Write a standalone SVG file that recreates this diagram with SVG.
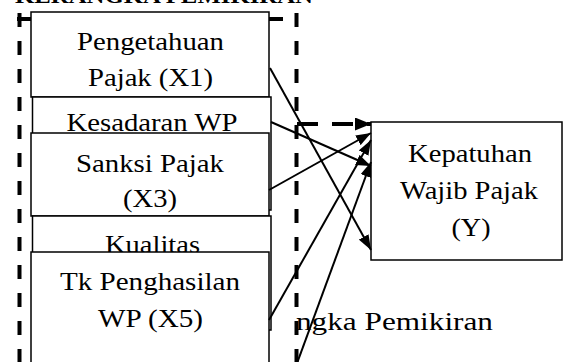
<svg xmlns="http://www.w3.org/2000/svg" width="564" height="362" viewBox="0 0 564 362">
  <style>
    .box { fill: #ffffff; stroke: #000000; stroke-width: 1.5; }
    .lbl { font-family: "Liberation Serif", "Times New Roman", serif; font-size: 26px; fill: #000000; text-anchor: middle; }
    .frame { fill: none; stroke: #000000; stroke-width: 4; stroke-dasharray: 14 14; }
    .link { fill: none; stroke: #000000; stroke-width: 2; marker-end: url(#head); }
    .dlink { fill: none; stroke: #000000; stroke-width: 4; stroke-dasharray: 21 14; marker-end: url(#headBig); }
  </style>
  <defs>
    <marker id="head" markerUnits="userSpaceOnUse" markerWidth="15" markerHeight="11" refX="15" refY="5.5" orient="auto">
      <path d="M0,0 L15,5.5 L0,11 z" fill="#000000"/>
    </marker>
    <marker id="headBig" markerUnits="userSpaceOnUse" markerWidth="16" markerHeight="13" refX="16" refY="6.5" orient="auto">
      <path d="M0,0 L16,6.5 L0,13 z" fill="#000000"/>
    </marker>
  </defs>

  <rect width="564" height="362" fill="#ffffff"/>

  <!-- title, running off the top edge -->
  <text x="15" y="2.5" font-family="Liberation Serif, serif" font-weight="bold" font-size="22" textLength="298" lengthAdjust="spacingAndGlyphs">KERANGKA PEMIKIRAN</text>

  <!-- caption -->
  <text x="296" y="330" font-family="Liberation Serif, serif" font-size="26" textLength="197" lengthAdjust="spacingAndGlyphs">ngka Pemikiran</text>

  <!-- dashed frame around the independent variables -->
  <g id="frame">
    <line class="frame" x1="19.5" y1="13" x2="19.5" y2="370"/>
    <line class="frame" x1="296.5" y1="13" x2="296.5" y2="370"/>
    <line class="frame" x1="17" y1="19" x2="296" y2="19" stroke-dasharray="10 18"/>
  </g>

  <g id="x1">
    <rect class="box" x="31" y="12" width="238" height="85"/>
    <text class="lbl" x="150.5" y="50" textLength="147" lengthAdjust="spacingAndGlyphs">Pengetahuan</text>
    <text class="lbl" x="150.5" y="86" textLength="125" lengthAdjust="spacingAndGlyphs">Pajak (X1)</text>
  </g>
  <g id="x2">
    <rect class="box" x="32.5" y="97" width="238.5" height="113"/>
    <text class="lbl" x="152" y="131" textLength="171" lengthAdjust="spacingAndGlyphs">Kesadaran WP</text>
  </g>
  <g id="x3">
    <rect class="box" x="31" y="133" width="238" height="83"/>
    <text class="lbl" x="150" y="172" textLength="148" lengthAdjust="spacingAndGlyphs">Sanksi Pajak</text>
    <text class="lbl" x="150" y="207" textLength="54" lengthAdjust="spacingAndGlyphs">(X3)</text>
  </g>
  <g id="x4">
    <rect class="box" x="32.5" y="216" width="238.5" height="114"/>
    <text class="lbl" x="152.5" y="252.5" textLength="95" lengthAdjust="spacingAndGlyphs">Kualitas</text>
  </g>
  <g id="x5">
    <rect class="box" x="31" y="252" width="238" height="130"/>
    <text class="lbl" x="150" y="290" textLength="180" lengthAdjust="spacingAndGlyphs">Tk Penghasilan</text>
    <text class="lbl" x="150.5" y="327" textLength="105" lengthAdjust="spacingAndGlyphs">WP (X5)</text>
  </g>
  <g id="y">
    <rect class="box" x="371" y="122" width="191" height="138"/>
    <text class="lbl" x="470" y="162" textLength="124" lengthAdjust="spacingAndGlyphs">Kepatuhan</text>
    <text class="lbl" x="469" y="199" textLength="138" lengthAdjust="spacingAndGlyphs">Wajib Pajak</text>
    <text class="lbl" x="471" y="236" textLength="39" lengthAdjust="spacingAndGlyphs">(Y)</text>
  </g>

  <g id="connectors">
    <line class="dlink" x1="297" y1="124" x2="371" y2="124"/>
    <line class="link" x1="270" y1="68" x2="371" y2="250"/>
    <line class="link" x1="271" y1="122" x2="371" y2="166"/>
    <line class="link" x1="269" y1="190" x2="371" y2="133"/>
    <line class="link" x1="269" y1="320" x2="371" y2="140"/>
    <line class="link" x1="296" y1="366" x2="371" y2="162"/>
  </g>
</svg>
